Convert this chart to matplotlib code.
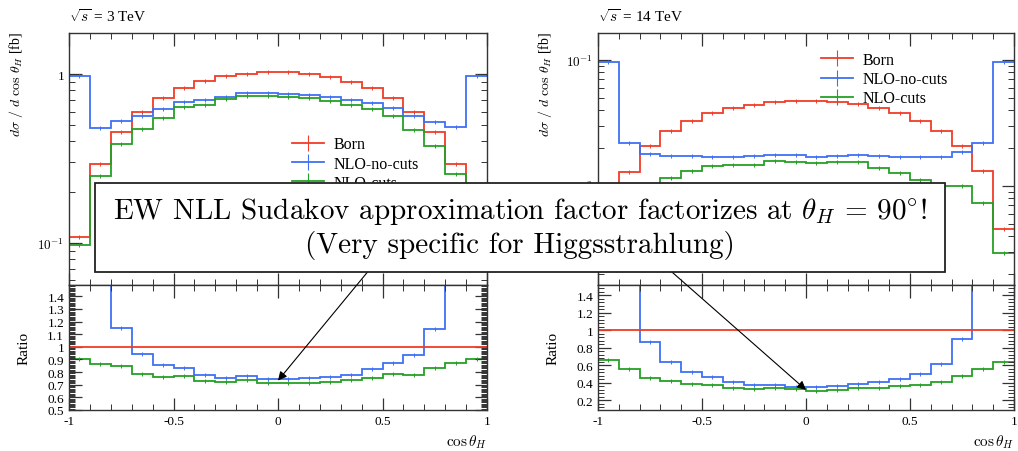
import numpy as np
import matplotlib
matplotlib.use('Agg')
import matplotlib.pyplot as plt
from matplotlib.ticker import LogLocator, NullFormatter, MultipleLocator

plt.rcParams['font.family'] = ['Liberation Serif', 'DejaVu Serif']
plt.rcParams['mathtext.fontset'] = 'cm'
plt.rcParams['axes.linewidth'] = 1.0
plt.rcParams['axes.edgecolor'] = '#333333'

# bin edges in cos(theta_H)
edges = np.linspace(-1.0, 1.0, 21)

# sqrt(s) = 3 TeV, dsigma/dcos [fb]
born_3 = [0.108, 0.293, 0.456, 0.598, 0.721, 0.823, 0.913, 0.969, 1.0, 1.027,
          1.032, 1.004, 0.956, 0.901, 0.823, 0.721, 0.600, 0.452, 0.293, 0.108]
nlo_nocuts_3 = [0.977, 0.479, 0.525, 0.567, 0.621, 0.686, 0.705, 0.734, 0.769, 0.769,
                0.761, 0.751, 0.728, 0.705, 0.674, 0.629, 0.562, 0.518, 0.488, 0.970]
nlo_cuts_3 = [0.0977, 0.250, 0.385, 0.473, 0.549, 0.635, 0.656, 0.711, 0.744, 0.744,
              0.734, 0.724, 0.692, 0.656, 0.621, 0.562, 0.466, 0.377, 0.256, 0.0977]

# ratios to Born, 3 TeV
ratio_nocuts_3 = [9.0, 1.65, 1.146, 0.947, 0.854, 0.833, 0.775, 0.757, 0.770, 0.749,
                  0.749, 0.757, 0.765, 0.780, 0.828, 0.876, 0.939, 1.138, 1.66, 9.0]
ratio_cuts_3 = [0.907, 0.862, 0.847, 0.788, 0.762, 0.770, 0.728, 0.720, 0.735, 0.717,
                0.714, 0.717, 0.722, 0.735, 0.757, 0.783, 0.775, 0.833, 0.873, 0.907]

# sqrt(s) = 14 TeV
born_14 = [0.00453, 0.0129, 0.0205, 0.0270, 0.0328, 0.0377, 0.0413, 0.0440, 0.0459, 0.0470,
           0.0472, 0.0461, 0.0442, 0.0411, 0.0377, 0.0328, 0.0270, 0.0205, 0.0130, 0.00453]
nlo_nocuts_14 = [0.0964, 0.0218, 0.0178, 0.0173, 0.0173, 0.0168, 0.0170, 0.0173, 0.0176, 0.0175,
                 0.0170, 0.0171, 0.0175, 0.0173, 0.0170, 0.0168, 0.0168, 0.0184, 0.0218, 0.0964]
nlo_cuts_14 = [0.0029, 0.0073, 0.0099, 0.01143, 0.01316, 0.01442, 0.01469, 0.01469, 0.0156, 0.01531,
               0.01513, 0.01531, 0.0155, 0.0138, 0.01262, 0.0111, 0.00988, 0.0099, 0.00728, 0.0029]

ratio_nocuts_14 = [21.0, 1.69, 0.872, 0.634, 0.521, 0.464, 0.408, 0.374, 0.377, 0.355,
                   0.355, 0.362, 0.389, 0.411, 0.449, 0.506, 0.615, 0.898, 1.68, 21.0]
ratio_cuts_14 = [0.664, 0.558, 0.457, 0.419, 0.392, 0.374, 0.343, 0.332, 0.336, 0.325,
                 0.313, 0.317, 0.336, 0.343, 0.362, 0.374, 0.408, 0.475, 0.558, 0.638]

c_born = '#f03c28'
c_nocut = '#3f6ff5'
c_cut = '#24a024'
labels = ['Born', 'NLO-no-cuts', 'NLO-cuts']

W, H = 1018, 452
fig = plt.figure(figsize=(W / 100, H / 100), dpi=100)


def px_axes(x0, x1, y0, y1):
    return fig.add_axes([x0 / W, 1 - y1 / H, (x1 - x0) / W, (y1 - y0) / H])


def style(ax):
    ax.tick_params(which='both', direction='in', top=True, right=True,
                   color='#333333', labelsize=9.5)
    ax.tick_params(which='major', length=9, width=0.9)
    ax.tick_params(which='minor', length=4.5, width=0.7)
    ax.set_xlim(-1, 1)
    ax.xaxis.set_major_locator(MultipleLocator(0.5))
    ax.xaxis.set_minor_locator(MultipleLocator(0.1))


def hist(ax, vals, color, label=None):
    vals = np.asarray(vals)
    centers = 0.5 * (edges[1:] + edges[:-1])
    ax.stairs(vals, edges, color=color, lw=1.3, baseline=None)
    ax.plot(centers, vals, ls='none', marker='|', ms=3, mew=0.7, color=color)
    if label is not None:
        ax.plot([], [], color=color, lw=1.3, marker='|', ms=11, mew=0.8, label=label)


panels = [
    (69, 487, 3, born_3, nlo_nocuts_3, nlo_cuts_3, ratio_nocuts_3, ratio_cuts_3),
    (598, 1014, 14, born_14, nlo_nocuts_14, nlo_cuts_14, ratio_nocuts_14, ratio_cuts_14),
]

for i, (x0, x1, rs, b, n1, n2, r1, r2) in enumerate(panels):
    ax = px_axes(x0, x1, 34, 286)
    axr = px_axes(x0, x1, 286, 411)
    style(ax)
    style(axr)

    hist(ax, b, c_born, labels[0])
    hist(ax, n1, c_nocut, labels[1])
    hist(ax, n2, c_cut, labels[2])
    ax.set_yscale('log')
    ax.yaxis.set_minor_locator(LogLocator(base=10, subs=np.arange(2, 10)))
    ax.yaxis.set_minor_formatter(NullFormatter())
    ax.tick_params(labelbottom=False)
    ax.set_ylabel(r'$d\sigma\ /\ d\ \cos\,\theta_H$ [fb]', fontsize=10)

    axr.axhline(1.0, color=c_born, lw=1.3)
    hist(axr, r1, c_nocut)
    hist(axr, r2, c_cut)
    axr.set_ylabel('Ratio', fontsize=11)
    axr.set_xlabel(r'$\cos\theta_H$', fontsize=11, loc='right')
    axr.set_xticks([-1, -0.5, 0, 0.5, 1], labels=['-1', '-0.5', '0', '0.5', '1'])

    if i == 0:
        ax.set_ylim(0.0564, 1.75)
        ax.set_yticks([0.1, 1], labels=[r'$10^{-1}$', '1'])
        axr.set_ylim(0.5, 1.49)
        axr.yaxis.set_minor_locator(MultipleLocator(0.01))
        axr.set_yticks(np.arange(0.5, 1.41, 0.1),
                       labels=['0.5', '0.6', '0.7', '0.8', '0.9', '1', '1.1', '1.2', '1.3', '1.4'])
        leg_xy = (0.533, 0.59)
        tip, tail = (0, 0.733), (403, H - 230)
    else:
        ax.set_ylim(0.00163, 0.163)
        ax.set_yticks([0.01, 0.1], labels=[r'$10^{-2}$', r'$10^{-1}$'])
        axr.set_ylim(0.09, 1.52)
        axr.yaxis.set_minor_locator(MultipleLocator(0.04))
        axr.set_yticks(np.arange(0.2, 1.41, 0.2),
                       labels=['0.2', '0.4', '0.6', '0.8', '1', '1.2', '1.4'])
        leg_xy = (0.536, 0.925)
        tip, tail = (0, 0.32), (623, H - 230)

    width = x1 - x0
    ax.yaxis.set_label_coords(-44 / width, 0.80)
    axr.yaxis.set_label_coords(-38 / width, 0.5)

    ax.legend(loc='upper left', bbox_to_anchor=leg_xy, frameon=False, fontsize=11.5,
              borderaxespad=0, borderpad=0, handlelength=2.0, handletextpad=0.6,
              labelspacing=0.2, numpoints=1)

    ax.text(0.0, 1.048, r'$\sqrt{s}$ = %d TeV' % rs, transform=ax.transAxes,
            fontsize=11, ha='left', va='baseline')

    axr.annotate('', xy=tip, xycoords='data', xytext=tail, textcoords='figure pixels',
                 annotation_clip=False,
                 arrowprops=dict(arrowstyle='-|>', color='black', lw=0.8,
                                 mutation_scale=13, shrinkA=0, shrinkB=0))

# text box over both panels
fig.patches.append(plt.Rectangle((95 / W, 1 - 273 / H), 850 / W, 89 / H,
                                 transform=fig.transFigure, facecolor='white',
                                 edgecolor='#222222', lw=1.3, zorder=5))
fig.text(520 / W, 1 - 228 / H,
         'EW NLL Sudakov approximation factor factorizes at $\\theta_H$ = 90$^{\\circ}$!\n'
         '(Very specific for Higgsstrahlung)',
         family='cmr10', fontsize=21, ha='center', va='center',
         linespacing=1.15, zorder=6)

fig.savefig('out.png', dpi=100)
